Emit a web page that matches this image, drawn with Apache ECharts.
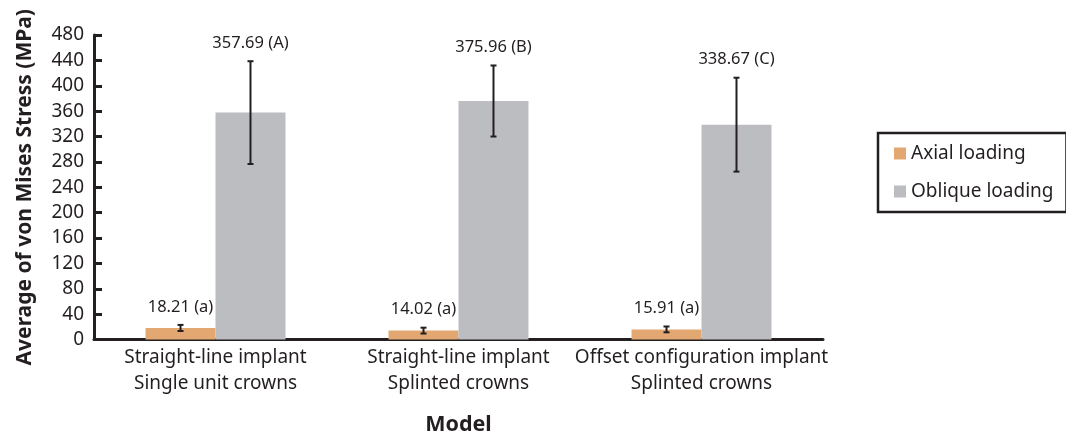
<!DOCTYPE html>
<html>
<head>
<meta charset="utf-8">
<script src="https://cdn.jsdelivr.net/npm/echarts@6/dist/echarts.min.js"></script>
<style>html,body{margin:0;padding:0;background:#fff}#c{width:1066px;height:436px}</style>
</head>
<body>
<div id="c"></div>
<script>
const categories = ['Straight-line implant\nSingle unit crowns', 'Straight-line implant\nSplinted crowns', 'Offset configuration implant\nSplinted crowns'];
const seriesNames = ['Axial loading', 'Oblique loading'];
const axialValues = [18.21, 14.02, 15.91];
const axialSD = [4.8, 4.6, 4.6];
const axialLetters = ['a', 'a', 'a'];
const obliqueValues = [357.69, 375.96, 338.67];
const obliqueSD = [81, 56, 74];
const obliqueLetters = ['A', 'B', 'C'];
const yTicks = [0, 40, 80, 120, 160, 200, 240, 280, 320, 360, 400, 440, 480];

const FONT = 'Noto Sans';
const INK = '#231f20';
const BAR_FRAC = 0.288;

function errData(vals, sds, letters) {
  return vals.map((v, i) => [i, v - sds[i], v + sds[i], v.toFixed(2) + ' (' + letters[i] + ')']);
}

function makeRender(side) {
  return function (params, api) {
    const idx = api.value(0);
    const band = api.size([1, 0])[0];
    const dx = side * band * BAR_FRAC / 2;
    const lo = api.coord([idx, api.value(1)]);
    const hi = api.coord([idx, api.value(2)]);
    const x = lo[0] + dx;
    const cap = 3;
    const style = { stroke: INK, lineWidth: 2 };
    return {
      type: 'group',
      children: [
        { type: 'line', shape: { x1: x, y1: lo[1], x2: x, y2: hi[1] }, style },
        { type: 'line', shape: { x1: x - cap, y1: lo[1], x2: x + cap, y2: lo[1] }, style },
        { type: 'line', shape: { x1: x - cap, y1: hi[1], x2: x + cap, y2: hi[1] }, style },
        { type: 'text', x: x, y: hi[1] - 18, style: { text: api.value(3), fill: INK, font: '16.5px "' + FONT + '"', align: 'center', verticalAlign: 'middle' } }
      ]
    };
  };
}

const chart = echarts.init(document.getElementById('c'), null, { renderer: 'canvas' });
chart.setOption({
  animation: false,
  textStyle: { fontFamily: FONT, color: INK },
  grid: { left: 94, right: 243, top: 35, bottom: 96.5, containLabel: false, outerBoundsMode: 'none' },
  legend: {
    orient: 'vertical',
    left: 878,
    top: 133,
    data: seriesNames,
    icon: 'rect',
    itemWidth: 12,
    itemHeight: 12,
    itemGap: 18,
    borderColor: INK,
    borderWidth: 2.5,
    padding: [10.5, 13, 10.5, 16],
    textStyle: { fontSize: 19, color: INK, fontFamily: FONT, lineHeight: 20 }
  },
  xAxis: {
    type: 'category',
    data: categories,
    name: 'Model',
    nameLocation: 'middle',
    nameGap: 74,
    nameTextStyle: { fontSize: 21.5, fontWeight: 'bold', color: INK, fontFamily: FONT },
    axisLine: { lineStyle: { color: INK, width: 3 } },
    axisTick: { show: false },
    axisLabel: { interval: 0, fontSize: 19, color: INK, lineHeight: 26, margin: 5, fontFamily: FONT }
  },
  yAxis: {
    type: 'value',
    min: 0,
    max: 480,
    interval: 40,
    name: 'Average of von Mises Stress (MPa)',
    nameLocation: 'middle',
    nameGap: 58,
    nameTextStyle: { fontSize: 21, fontWeight: 'bold', color: INK, fontFamily: FONT },
    axisLine: { show: true, lineStyle: { color: INK, width: 3 } },
    axisTick: { show: true, inside: true, length: 8, lineStyle: { color: INK, width: 3 } },
    splitLine: { show: false },
    axisLabel: { fontSize: 19, color: INK, margin: 10, fontFamily: FONT, formatter: v => (yTicks.indexOf(v) >= 0 ? String(v) : '') }
  },
  series: [
    { name: seriesNames[0], type: 'bar', data: axialValues, barWidth: (BAR_FRAC * 100) + '%', barGap: '0%', itemStyle: { color: '#e3a872' } },
    { name: seriesNames[1], type: 'bar', data: obliqueValues, barWidth: (BAR_FRAC * 100) + '%', barGap: '0%', itemStyle: { color: '#bcbdc1' } },
    { type: 'custom', renderItem: makeRender(-1), data: errData(axialValues, axialSD, axialLetters), z: 5, encode: { x: 0, y: [1, 2] } },
    { type: 'custom', renderItem: makeRender(1), data: errData(obliqueValues, obliqueSD, obliqueLetters), z: 5, encode: { x: 0, y: [1, 2] } }
  ]
});
</script>
</body>
</html>
